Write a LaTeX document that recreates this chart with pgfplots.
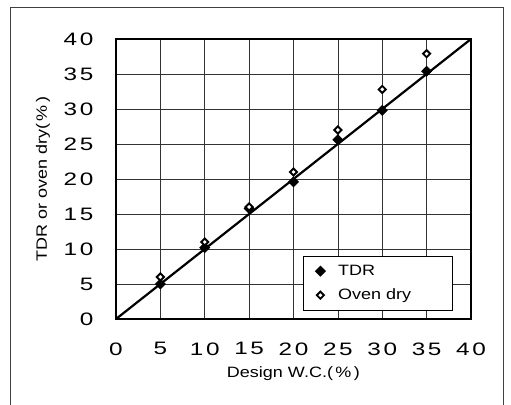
\documentclass[border=0pt]{standalone}
\usepackage{fontspec}
\setmainfont{Liberation Sans}
\newfontfamily\tickfont{Liberation Sans}[FakeStretch=1.35,LetterSpace=15]
\newfontfamily\lblfont{Liberation Sans}[FakeStretch=1.2]
\usepackage{pgfplots}
\pgfplotsset{compat=1.18}
\begin{document}
\begin{tikzpicture}
\useasboundingbox (-116bp,-86bp) rectangle (395bp,319bp);
\draw[black!75, line width=0.9bp] (-106bp,-86bp) -- (-106bp,312bp) -- (387bp,312bp) -- (387bp,-86bp);
\begin{axis}[
  at={(0,0)}, anchor=south west,
  width=355bp, height=280bp, scale only axis,
  xmin=0, xmax=40, ymin=0, ymax=40,
  xtick={0,5,...,40}, ytick={0,5,...,40},
  major tick length=0pt,
  grid=major,
  grid style={black!80, line width=0.7bp},
  axis line style={line width=1.6bp},
  /pgf/number format/assume math mode=true,
  ticklabel style={font=\tickfont\fontsize{18bp}{20bp}\selectfont},
  xticklabel style={yshift=-20bp},
  yticklabel style={xshift=-19bp},
  xlabel={Design W.C.(\,\%\,)},
  ylabel={TDR or oven dry(\,\%\,)},
  label style={font=\lblfont\fontsize{15bp}{17bp}\selectfont},
  xlabel style={at={(rel axis cs:0.5,0)}, anchor=center, yshift=-55bp},
  ylabel style={at={(rel axis cs:0,0.5)}, anchor=center, yshift=73bp},
  legend style={at={(rel axis cs:0.527,0.029)}, anchor=south west,
    draw=black, line width=1bp, fill=white,
    font=\lblfont\fontsize{15bp}{17bp}\selectfont,
    inner xsep=12bp, inner ysep=7bp, row sep=8bp,
    /tikz/every odd column/.append style={column sep=11bp}},
  legend image code/.code={\draw[#1] plot coordinates {(0.2cm,0cm)};},
  legend cell align=left,
]
\addplot[black, line width=2.2bp, no marks, forget plot] coordinates {(0,0) (40,40)};
\addplot[only marks, mark=square*, mark size=3.4bp, black, mark options={line width=1bp, rotate=45}]
  coordinates {(5,5) (10,10.2) (15,15.8) (20,19.6) (25,25.6) (30,29.8) (35,35.4)};
\addlegendentry{TDR}
\addplot[only marks, mark=square*, mark size=2.5bp, black, mark options={fill=white, line width=1.9bp, rotate=45}]
  coordinates {(5,6) (10,11) (15,16) (20,21) (25,27) (30,32.8) (35,37.9)};
\addlegendentry{Oven dry\hspace*{27bp}\mbox{}}
\end{axis}
\end{tikzpicture}
\end{document}
